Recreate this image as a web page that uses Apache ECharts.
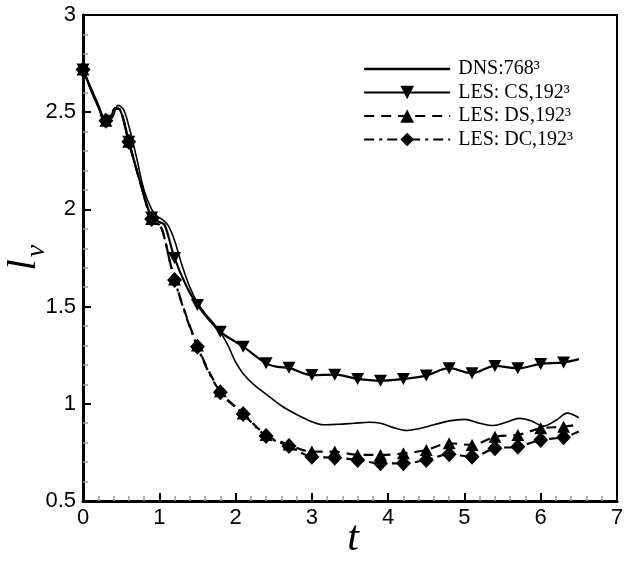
<!DOCTYPE html>
<html><head><meta charset="utf-8">
<script src="https://cdn.jsdelivr.net/npm/echarts/dist/echarts.min.js"></script>
<style>html,body{margin:0;padding:0;background:#fff}#c{width:629px;height:561px}</style>
</head><body><div id="c"></div>
<script>
// ---- data ----
const markerT = [0,0.3,0.6,0.9,1.2,1.5,1.8,2.1,2.4,2.7,3.0,3.3,3.6,3.9,4.2,4.5,4.8,5.1,5.4,5.7,6.0,6.3];

const dnsT = [0,0.1,0.2,0.3,0.38,0.46,0.53,0.6,0.7,0.8,0.9,0.97,1.05,1.12,1.2,1.3,1.4,1.5,1.6,1.7,1.8,1.9,2.0,2.1,2.25,2.4,2.6,2.8,3.0,3.15,3.35,3.55,3.75,3.9,4.05,4.25,4.4,4.6,4.8,5.0,5.2,5.38,5.55,5.72,5.88,6.03,6.2,6.35,6.5];
const dnsV = [2.72,2.63,2.54,2.46,2.47,2.535,2.515,2.43,2.27,2.1,2.0,1.965,1.945,1.915,1.84,1.71,1.6,1.52,1.465,1.42,1.37,1.30,1.215,1.155,1.095,1.05,0.99,0.945,0.908,0.892,0.895,0.9,0.905,0.9,0.88,0.863,0.872,0.892,0.912,0.92,0.9,0.888,0.905,0.925,0.912,0.885,0.915,0.952,0.928];

const csMarkV = [2.72,2.456,2.348,1.958,1.75,1.508,1.371,1.294,1.208,1.185,1.148,1.150,1.128,1.119,1.128,1.145,1.183,1.157,1.195,1.183,1.205,1.213];
const csExtra = [[0.1,2.62],[0.2,2.53],[0.37,2.48],[0.42,2.52],[0.48,2.515],[0.75,2.14],[1.0,1.935],[1.07,1.92],[1.35,1.61],[2.55,1.19],[6.5,1.23]];

const dsMarkV = [2.72,2.456,2.348,1.95,1.64,1.30,1.065,0.95,0.84,0.79,0.754,0.754,0.737,0.737,0.745,0.762,0.797,0.788,0.831,0.84,0.874,0.882];
const dsExtra = [[0.1,2.62],[0.2,2.53],[0.37,2.48],[0.42,2.52],[0.48,2.515],[0.75,2.14],[1.0,1.92],[1.05,1.88],[6.5,0.894]];

const dcMarkV = [2.72,2.456,2.348,1.95,1.637,1.294,1.06,0.948,0.834,0.783,0.728,0.723,0.711,0.694,0.694,0.711,0.74,0.728,0.771,0.779,0.814,0.828];
const dcExtra = [[0.1,2.62],[0.2,2.53],[0.37,2.48],[0.42,2.52],[0.48,2.515],[0.75,2.14],[1.0,1.92],[1.05,1.88],[6.5,0.857]];

const names = ['DNS:768\u00B3','LES: CS,192\u00B3','LES: DS,192\u00B3','LES: DC,192\u00B3'];

// ---- build ----
function build(markV, extra){
  const pts = markerT.map((t,i)=>({value:[t,markV[i]]}));
  extra.forEach(p=>pts.push({value:p, symbol:'none'}));
  pts.sort((a,b)=>a.value[0]-b.value[0]);
  return pts;
}
const dnsData = dnsT.map((t,i)=>[t,dnsV[i]]);

const chart = echarts.init(document.getElementById('c'));
const axisCommon = {
  type:'value',
  axisLine:{show:true, lineStyle:{color:'#000', width:3}},
  axisTick:{show:true, inside:true, length:8, lineStyle:{color:'#000', width:2}},
  minorTick:{show:true, splitNumber:5, length:5, lineStyle:{color:'#999', width:1.5}},
  splitLine:{show:false},
  minorSplitLine:{show:false},
  axisLabel:{color:'#000', fontSize:22, fontFamily:'Liberation Sans'}
};
chart.setOption({
  animation:false,
  backgroundColor:'#fff',
  grid:{left:83, right:12, top:15, bottom:60, show:true, borderColor:'#000', borderWidth:2, outerBoundsMode:'none', containLabel:false},
  xAxis: Object.assign({}, axisCommon, {min:0, max:7, interval:1, axisLabel:Object.assign({}, axisCommon.axisLabel, {margin:6})}),
  yAxis: Object.assign({}, axisCommon, {min:0.5, max:3, interval:0.5, axisLabel:Object.assign({}, axisCommon.axisLabel, {margin:7})}),
  legend:{
    orient:'vertical', left:363, top:59, itemWidth:86, itemHeight:17, itemGap:3.5, padding:0,
    selectedMode:false,
    textStyle:{color:'#000', fontFamily:'Liberation Serif', fontSize:20, padding:[0,0,0,3]},
    data:[{name:names[0], itemStyle:{opacity:0, color:'rgba(0,0,0,0)', borderWidth:0}, lineStyle:{width:2.4}}, names[1], names[2], names[3]]
  },
  series:[
    {name:names[0], type:'line', data:dnsData, symbol:'none', smooth:0.35, clip:false,
     lineStyle:{color:'#000', width:1.6}, itemStyle:{color:'#000'}, z:2},
    {name:names[1], type:'line', data:build(csMarkV, csExtra), symbol:'path://M0,0 L10,0 L5,9 Z', symbolSize:[13,12], smooth:0.35, clip:false,
     lineStyle:{color:'#000', width:2.2}, itemStyle:{color:'#000'}, z:3},
    {name:names[2], type:'line', data:build(dsMarkV, dsExtra), symbol:'triangle', symbolSize:[13,12], smooth:0.35, clip:false,
     lineStyle:{color:'#000', width:2.2, type:[10,7]}, itemStyle:{color:'#000'}, z:4},
    {name:names[3], type:'line', data:build(dcMarkV, dcExtra), symbol:'diamond', symbolSize:[15,16], smooth:0.35, clip:false,
     lineStyle:{color:'#000', width:2.2, type:[10,5,3,5]}, itemStyle:{color:'#000'}, z:5}
  ],
  graphic:[
    {type:'text', x:353, y:539, style:{text:'t', font:'italic 42px "Liberation Serif"', fill:'#000', align:'center', verticalAlign:'middle'}},
    {type:'text', x:24, y:265, rotation:Math.PI/2, style:{text:'l', font:'italic 40px "Liberation Serif"', fill:'#000', align:'center', verticalAlign:'middle'}},
    {type:'text', x:37, y:251, rotation:Math.PI/2, style:{text:'v', font:'italic 28px "Liberation Serif"', fill:'#000', align:'center', verticalAlign:'middle'}}
  ]
});
</script>
</body></html>
